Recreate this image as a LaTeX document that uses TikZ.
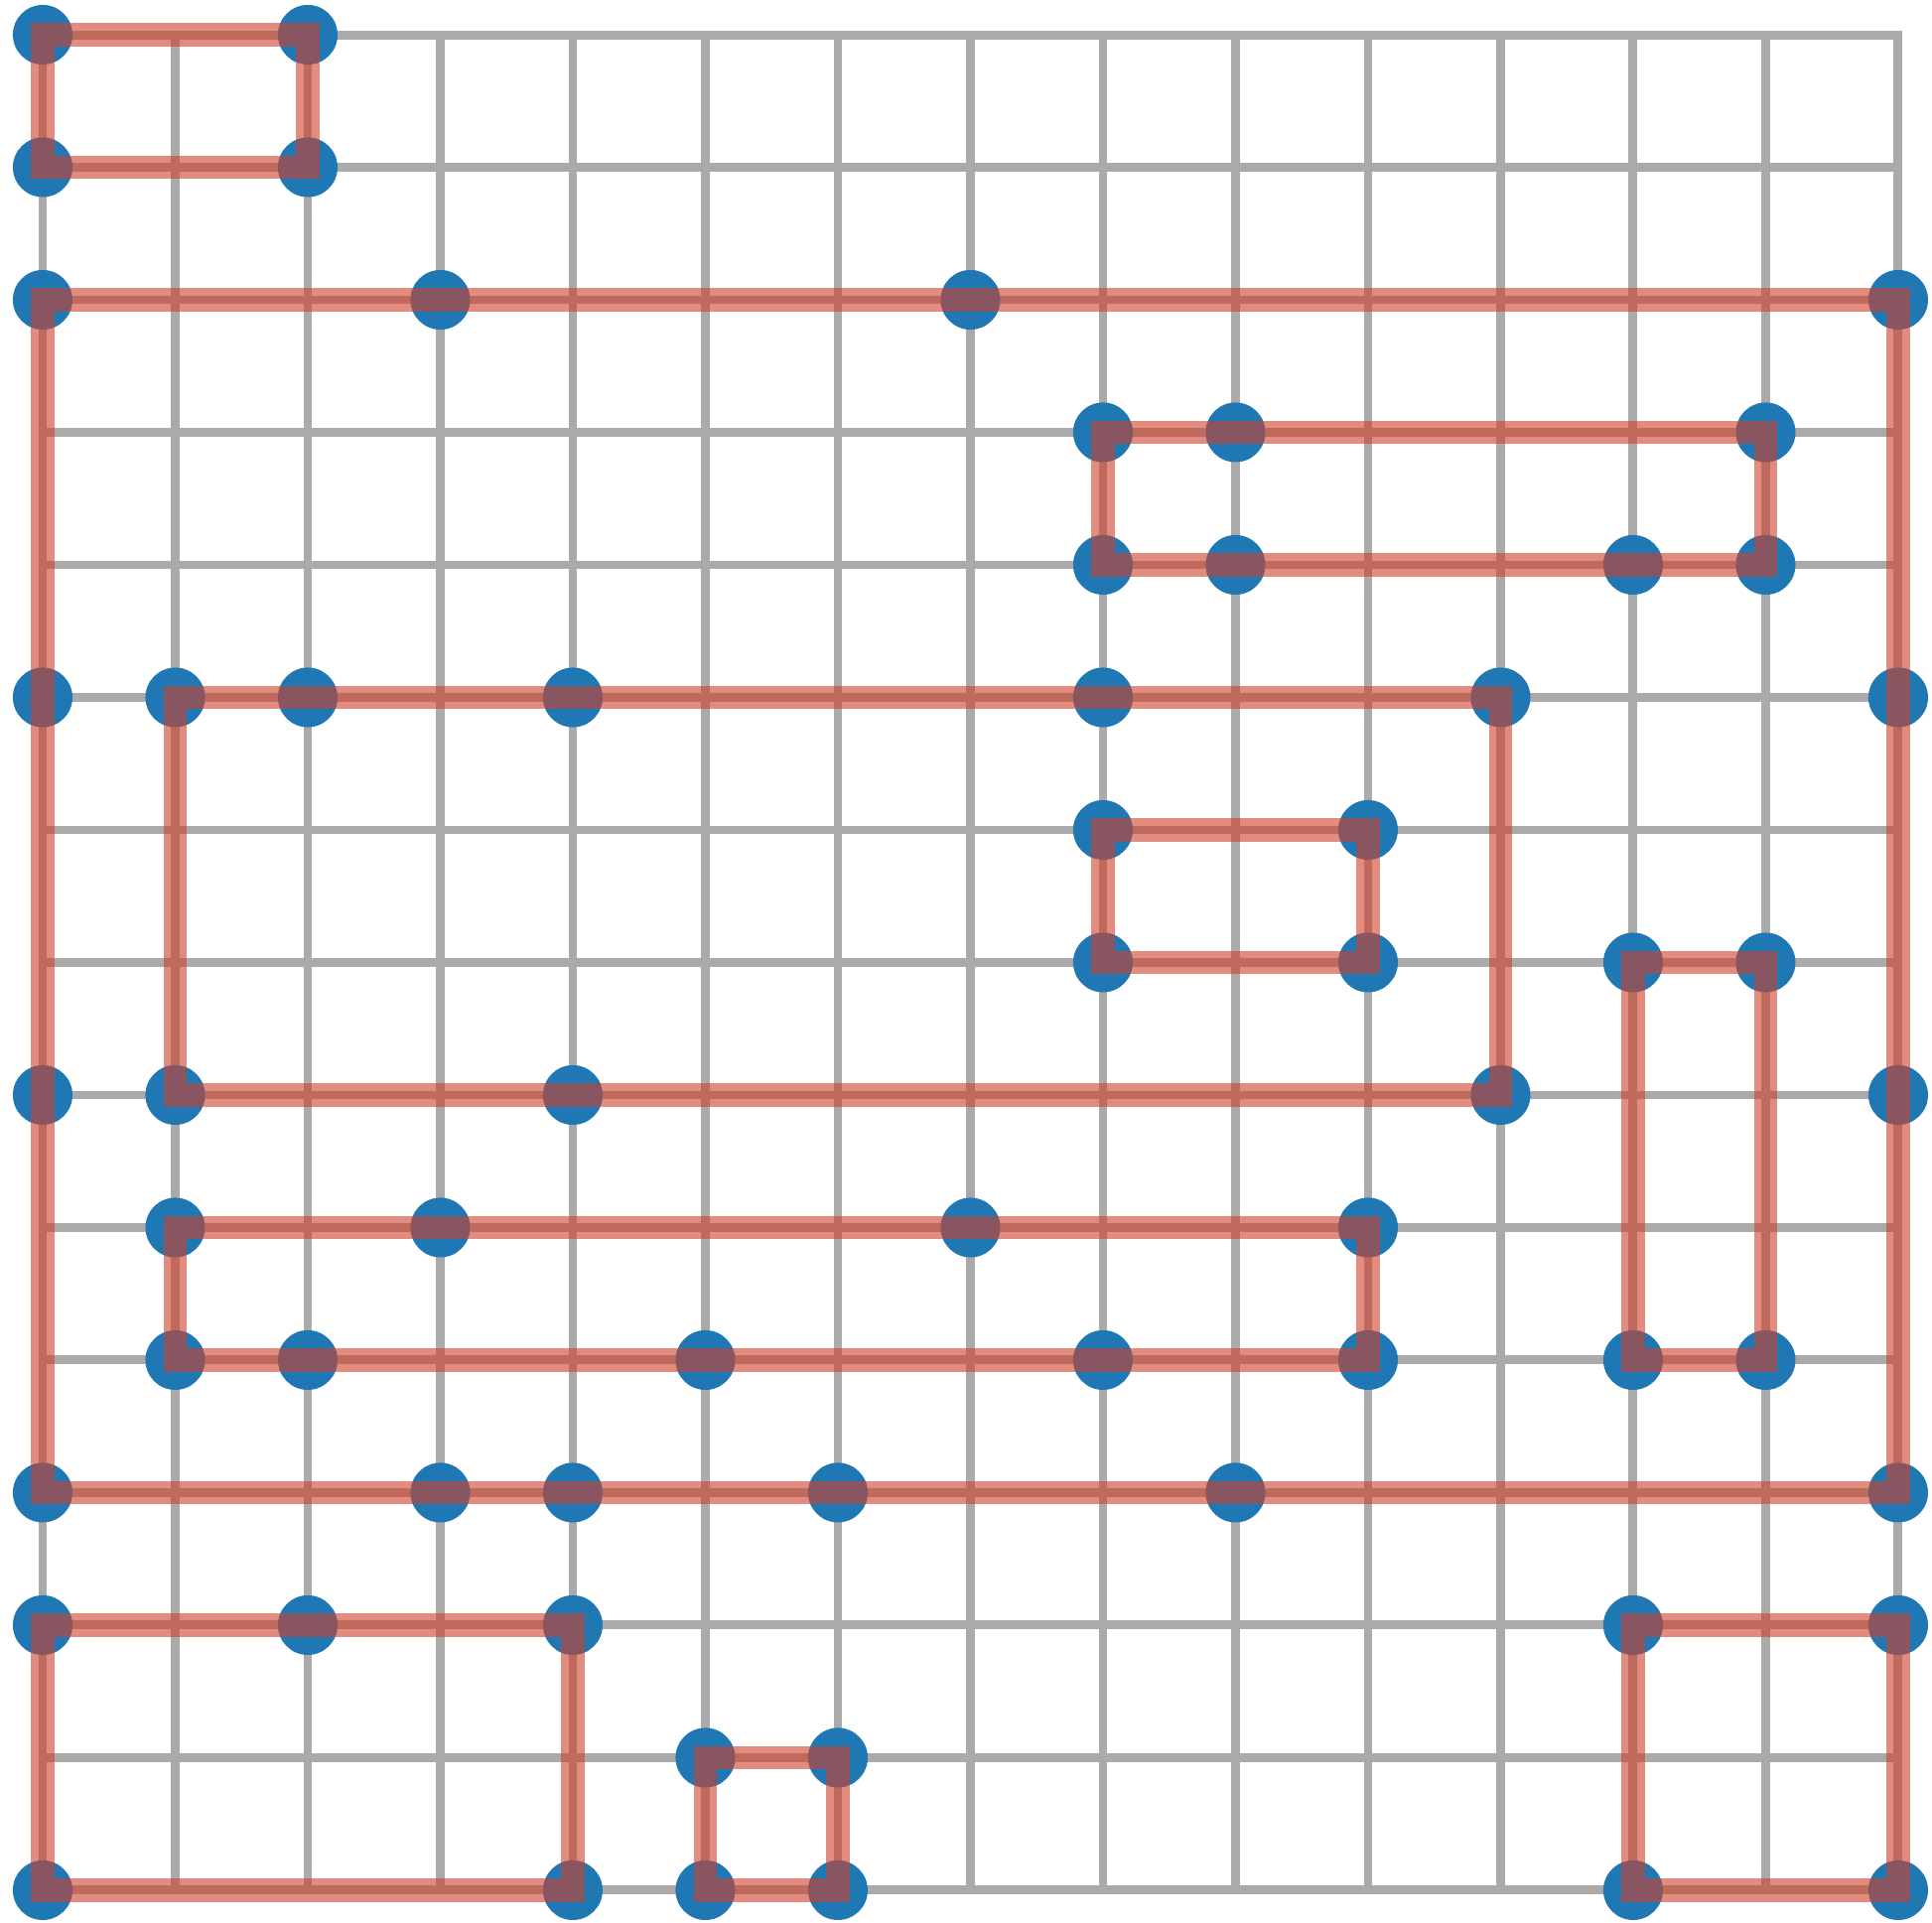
\documentclass[tikz,border=0pt]{standalone}
\usepackage{tikz}
\definecolor{dotblue}{RGB}{31,119,180}
\definecolor{ringred}{RGB}{207,63,43}
\definecolor{gridgray}{RGB}{170,170,170}

\begin{document}
\begin{tikzpicture}[x=1cm,y=-1cm,
        dot/.style={circle,fill=dotblue,inner sep=0pt,minimum size=.45cm},
        ring/.style={draw=ringred,draw opacity=.6,line width=.176cm}]
        \useasboundingbox (-0.322,-0.262) rectangle (14.255,14.247);
        \draw[gridgray,line width=.067cm,line cap=rect] (0,0) grid (14,14);

        % row 0 and 1
        \node[dot] (n-0-0) at (0,0) {};
        \node[dot] (n-2-0) at (2,0) {};
        \node[dot] (n-0-1) at (0,1) {};
        \node[dot] (n-2-1) at (2,1) {};
        % row 2
        \node[dot] (n-0-2) at (0,2) {};
        \node[dot] (n-3-2) at (3,2) {};
        \node[dot] (n-7-2) at (7,2) {};
        \node[dot] (n-14-2) at (14,2) {};
        % row 3 and 4
        \node[dot] (n-8-3) at (8,3) {};
        \node[dot] (n-9-3) at (9,3) {};
        \node[dot] (n-13-3) at (13,3) {};
        \node[dot] (n-8-4) at (8,4) {};
        \node[dot] (n-9-4) at (9,4) {};
        \node[dot] (n-12-4) at (12,4) {};
        \node[dot] (n-13-4) at (13,4) {};
        % row 5
        \node[dot] (n-0-5) at (0,5) {};
        \node[dot] (n-1-5) at (1,5) {};
        \node[dot] (n-2-5) at (2,5) {};
        \node[dot] (n-4-5) at (4,5) {};
        \node[dot] (n-8-5) at (8,5) {};
        \node[dot] (n-11-5) at (11,5) {};
        \node[dot] (n-14-5) at (14,5) {};
        % row 6 and 7
        \node[dot] (n-8-6) at (8,6) {};
        \node[dot] (n-10-6) at (10,6) {};
        \node[dot] (n-8-7) at (8,7) {};
        \node[dot] (n-10-7) at (10,7) {};
        \node[dot] (n-12-7) at (12,7) {};
        \node[dot] (n-13-7) at (13,7) {};
        % row 8
        \node[dot] (n-0-8) at (0,8) {};
        \node[dot] (n-1-8) at (1,8) {};
        \node[dot] (n-4-8) at (4,8) {};
        \node[dot] (n-11-8) at (11,8) {};
        \node[dot] (n-14-8) at (14,8) {};
        % row 9 and 10
        \node[dot] (n-1-9) at (1,9) {};
        \node[dot] (n-3-9) at (3,9) {};
        \node[dot] (n-7-9) at (7,9) {};
        \node[dot] (n-10-9) at (10,9) {};
        \node[dot] (n-1-10) at (1,10) {};
        \node[dot] (n-2-10) at (2,10) {};
        \node[dot] (n-5-10) at (5,10) {};
        \node[dot] (n-8-10) at (8,10) {};
        \node[dot] (n-10-10) at (10,10) {};
        \node[dot] (n-12-10) at (12,10) {};
        \node[dot] (n-13-10) at (13,10) {};
        % row 11
        \node[dot] (n-0-11) at (0,11) {};
        \node[dot] (n-3-11) at (3,11) {};
        \node[dot] (n-4-11) at (4,11) {};
        \node[dot] (n-6-11) at (6,11) {};
        \node[dot] (n-9-11) at (9,11) {};
        \node[dot] (n-14-11) at (14,11) {};
        % rows 12 to 14
        \node[dot] (n-0-12) at (0,12) {};
        \node[dot] (n-2-12) at (2,12) {};
        \node[dot] (n-4-12) at (4,12) {};
        \node[dot] (n-12-12) at (12,12) {};
        \node[dot] (n-14-12) at (14,12) {};
        \node[dot] (n-5-13) at (5,13) {};
        \node[dot] (n-6-13) at (6,13) {};
        \node[dot] (n-0-14) at (0,14) {};
        \node[dot] (n-4-14) at (4,14) {};
        \node[dot] (n-5-14) at (5,14) {};
        \node[dot] (n-6-14) at (6,14) {};
        \node[dot] (n-12-14) at (12,14) {};
        \node[dot] (n-14-14) at (14,14) {};

        % rings
        \draw[ring] (n-0-0.center) -- (n-2-0.center) -- (n-2-1.center) -- (n-0-1.center) -- cycle;
        \draw[ring] (n-0-2.center) -- (n-14-2.center) -- (n-14-11.center) -- (n-0-11.center) -- cycle;
        \draw[ring] (n-8-3.center) -- (n-13-3.center) -- (n-13-4.center) -- (n-8-4.center) -- cycle;
        \draw[ring] (n-1-5.center) -- (n-11-5.center) -- (n-11-8.center) -- (n-1-8.center) -- cycle;
        \draw[ring] (n-8-6.center) -- (n-10-6.center) -- (n-10-7.center) -- (n-8-7.center) -- cycle;
        \draw[ring] (n-12-7.center) -- (n-13-7.center) -- (n-13-10.center) -- (n-12-10.center) -- cycle;
        \draw[ring] (n-1-9.center) -- (n-10-9.center) -- (n-10-10.center) -- (n-1-10.center) -- cycle;
        \draw[ring] (n-0-12.center) -- (n-4-12.center) -- (n-4-14.center) -- (n-0-14.center) -- cycle;
        \draw[ring] (n-5-13.center) -- (n-6-13.center) -- (n-6-14.center) -- (n-5-14.center) -- cycle;
        \draw[ring] (n-12-12.center) -- (n-14-12.center) -- (n-14-14.center) -- (n-12-14.center) -- cycle;
    \end{tikzpicture}
\end{document}
